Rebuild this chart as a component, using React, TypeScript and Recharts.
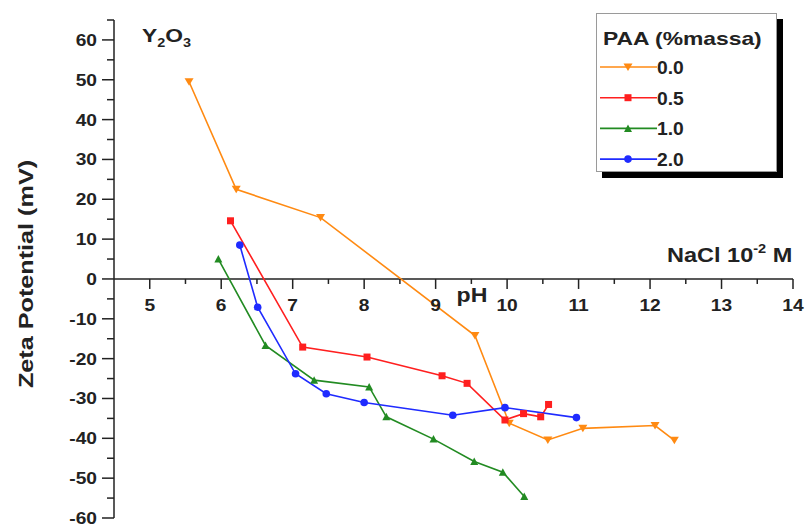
import React from "react";
import { ComposedChart, Line, Scatter, XAxis, YAxis, ReferenceLine } from "recharts";

// pH / zeta potential (mV), one pair of arrays per PAA dose
const ph00 = [5.55, 6.21, 7.39, 9.55, 10.03, 10.57, 11.06, 12.07, 12.34];
const zeta00 = [49.5, 22.5, 15.4, -14.2, -36.2, -40.4, -37.5, -36.8, -40.5];

const ph05 = [6.13, 7.14, 8.04, 9.09, 9.44, 9.97, 10.23, 10.47, 10.58];
const zeta05 = [14.6, -17.1, -19.6, -24.3, -26.2, -35.4, -33.8, -34.6, -31.5];

const ph10 = [5.96, 6.62, 7.3, 8.07, 8.31, 8.97, 9.54, 9.94, 10.24];
const zeta10 = [5.0, -16.7, -25.4, -27.1, -34.6, -40.2, -45.8, -48.5, -54.6];

const ph20 = [6.26, 6.51, 7.04, 7.47, 8.0, 9.24, 9.97, 10.97];
const zeta20 = [8.5, -7.1, -23.8, -28.8, -31.0, -34.2, -32.3, -34.8];

const xTicks = [5, 5.5, 6, 6.5, 7, 7.5, 8, 8.5, 9, 9.5, 10, 10.5, 11, 11.5, 12, 12.5, 13, 13.5, 14];
const yTicks = [-60, -55, -50, -45, -40, -35, -30, -25, -20, -15, -10, -5, 0, 5, 10, 15, 20, 25, 30, 35, 40, 45, 50, 55, 60, 65];

const legendTitle = "PAA (%massa)";

type Shape = "down" | "square" | "up" | "circle";

const series: { name: string; color: string; shape: Shape; ph: number[]; zeta: number[] }[] = [
  { name: "0.0", color: "#FF8A12", shape: "down", ph: ph00, zeta: zeta00 },
  { name: "0.5", color: "#FF1F1F", shape: "square", ph: ph05, zeta: zeta05 },
  { name: "1.0", color: "#228B22", shape: "up", ph: ph10, zeta: zeta10 },
  { name: "2.0", color: "#1F2BFF", shape: "circle", ph: ph20, zeta: zeta20 },
];

const AXIS = "#222";
const FONT = "'Liberation Sans', Arial, sans-serif";
const SX = 1.13; // the figure's lettering is a bit stretched sideways

const Marker = ({ shape, color, cx, cy }: { shape: Shape; color: string; cx: number; cy: number }) => {
  if (shape === "down")
    return <polygon points={`${cx - 4.5},${cy - 3.5} ${cx + 4.5},${cy - 3.5} ${cx},${cy + 4}`} fill={color} />;
  if (shape === "up")
    return <polygon points={`${cx - 4},${cy + 3.5} ${cx + 4},${cy + 3.5} ${cx},${cy - 4}`} fill={color} />;
  if (shape === "square") return <rect x={cx - 3.5} y={cy - 3.5} width={7} height={7} fill={color} />;
  return <circle cx={cx} cy={cy} r={3.8} fill={color} />;
};

const makeDot = (shape: Shape, color: string) => (p: any) => {
  if (p.cx == null || p.cy == null) return <g key={p.key} />;
  return (
    <g key={p.key}>
      <Marker shape={shape} color={color} cx={p.cx} cy={p.cy} />
    </g>
  );
};

const YTick = (props: any) => {
  const { x, y, payload } = props;
  const v = payload.value;
  const major = v % 10 === 0;
  return (
    <g>
      <line x1={x} y1={y} x2={x - (major ? 12 : 7)} y2={y} stroke={AXIS} strokeWidth={1.5} />
      {major && (
        <text
          transform={`translate(${x - 17} ${y + 6}) scale(${SX} 1)`}
          textAnchor="end"
          fontSize={17}
          fontWeight="bold"
          fontFamily={FONT}
          fill={AXIS}
        >
          {v}
        </text>
      )}
    </g>
  );
};

// tick marks of the x axis, which crosses at zeta = 0
const XTickMark = (props: any) => {
  const { cx, cy, payload } = props;
  const t = payload.x;
  const major = Number.isInteger(t);
  return (
    <g>
      <line x1={cx} y1={cy} x2={cx} y2={cy + (major ? 10 : 5)} stroke={AXIS} strokeWidth={1.5} />
      {major && (
        <text
          transform={`translate(${cx} ${cy + 32}) scale(${SX} 1)`}
          textAnchor="middle"
          fontSize={17}
          fontWeight="bold"
          fontFamily={FONT}
          fill={AXIS}
        >
          {t}
        </text>
      )}
    </g>
  );
};

export default function App() {
  const tickData = xTicks.map((t) => ({ x: t, y: 0 }));
  return (
    <div style={{ position: "absolute", left: 0, top: 0, width: 806, height: 525, background: "#fff" }}>
      <ComposedChart width={806} height={525} margin={{ top: 20, right: 13, bottom: 7, left: 44 }}>
        <XAxis type="number" dataKey="x" domain={[4.5, 14]} hide />
        <YAxis
          type="number"
          dataKey="y"
          width={70}
          domain={[-60, 65]}
          ticks={yTicks}
          interval={0}
          tickSize={0}
          tickMargin={0}
          tickLine={false}
          axisLine={{ stroke: AXIS, strokeWidth: 1.5 }}
          tick={<YTick />}
        />
        <ReferenceLine y={0} stroke={AXIS} strokeWidth={1.5} />
        <Scatter data={tickData} dataKey="y" shape={<XTickMark />} isAnimationActive={false} legendType="none" />
        {series.map((s) => (
          <Line
            key={s.name}
            name={s.name}
            data={s.ph.map((x, i) => ({ x, y: s.zeta[i] }))}
            dataKey="y"
            type="linear"
            stroke={s.color}
            strokeWidth={1.6}
            dot={makeDot(s.shape, s.color)}
            activeDot={false}
            isAnimationActive={false}
          />
        ))}
      </ComposedChart>

      <svg width={806} height={525} style={{ position: "absolute", left: 0, top: 0, pointerEvents: "none" }}>
        <g fontFamily={FONT} fontWeight="bold" fill={AXIS}>
          <text transform="translate(26 274) rotate(-90) scale(1.2 1)" textAnchor="middle" dy="0.35em" fontSize={21}>
            Zeta Potential (mV)
          </text>
          <text transform="translate(472 302) scale(1.1 1)" textAnchor="middle" fontSize={21}>
            pH
          </text>
          <text transform="translate(667 262) scale(1.12 1)" fontSize={21}>
            NaCl 10
            <tspan fontSize={13} dy={-9}>-2</tspan>
            <tspan dy={9}> M</tspan>
          </text>
          <text transform="translate(142 42) scale(1.2 1)" fontSize={19}>
            Y<tspan fontSize={12} dy={5}>2</tspan>
            <tspan dy={-5}>O</tspan>
            <tspan fontSize={12} dy={5}>3</tspan>
          </text>
        </g>
      </svg>

      <div
        style={{
          position: "absolute",
          left: 596,
          top: 13,
          width: 181,
          height: 159,
          boxSizing: "border-box",
          border: "1px solid #9a9a9a",
          background: "#fff",
          boxShadow: "6px 6px 0 #000",
        }}
      >
        <svg width={181} height={159} style={{ position: "absolute", left: -1, top: -1 }}>
          <g fontFamily={FONT} fontWeight="bold" fill={AXIS}>
            <text transform={`translate(7 32) scale(1.27 1)`} fontSize={18}>
              {legendTitle}
            </text>
            {series.map((s, i) => {
              const y = 54 + i * 30.7;
              return (
                <g key={s.name}>
                  <line x1={4} y1={y} x2={61} y2={y} stroke={s.color} strokeWidth={1.6} />
                  <Marker shape={s.shape} color={s.color} cx={32} cy={y} />
                  <text transform={`translate(61 ${y + 7}) scale(1.07 1)`} fontSize={18}>
                    {s.name}
                  </text>
                </g>
              );
            })}
          </g>
        </svg>
      </div>
    </div>
  );
}
